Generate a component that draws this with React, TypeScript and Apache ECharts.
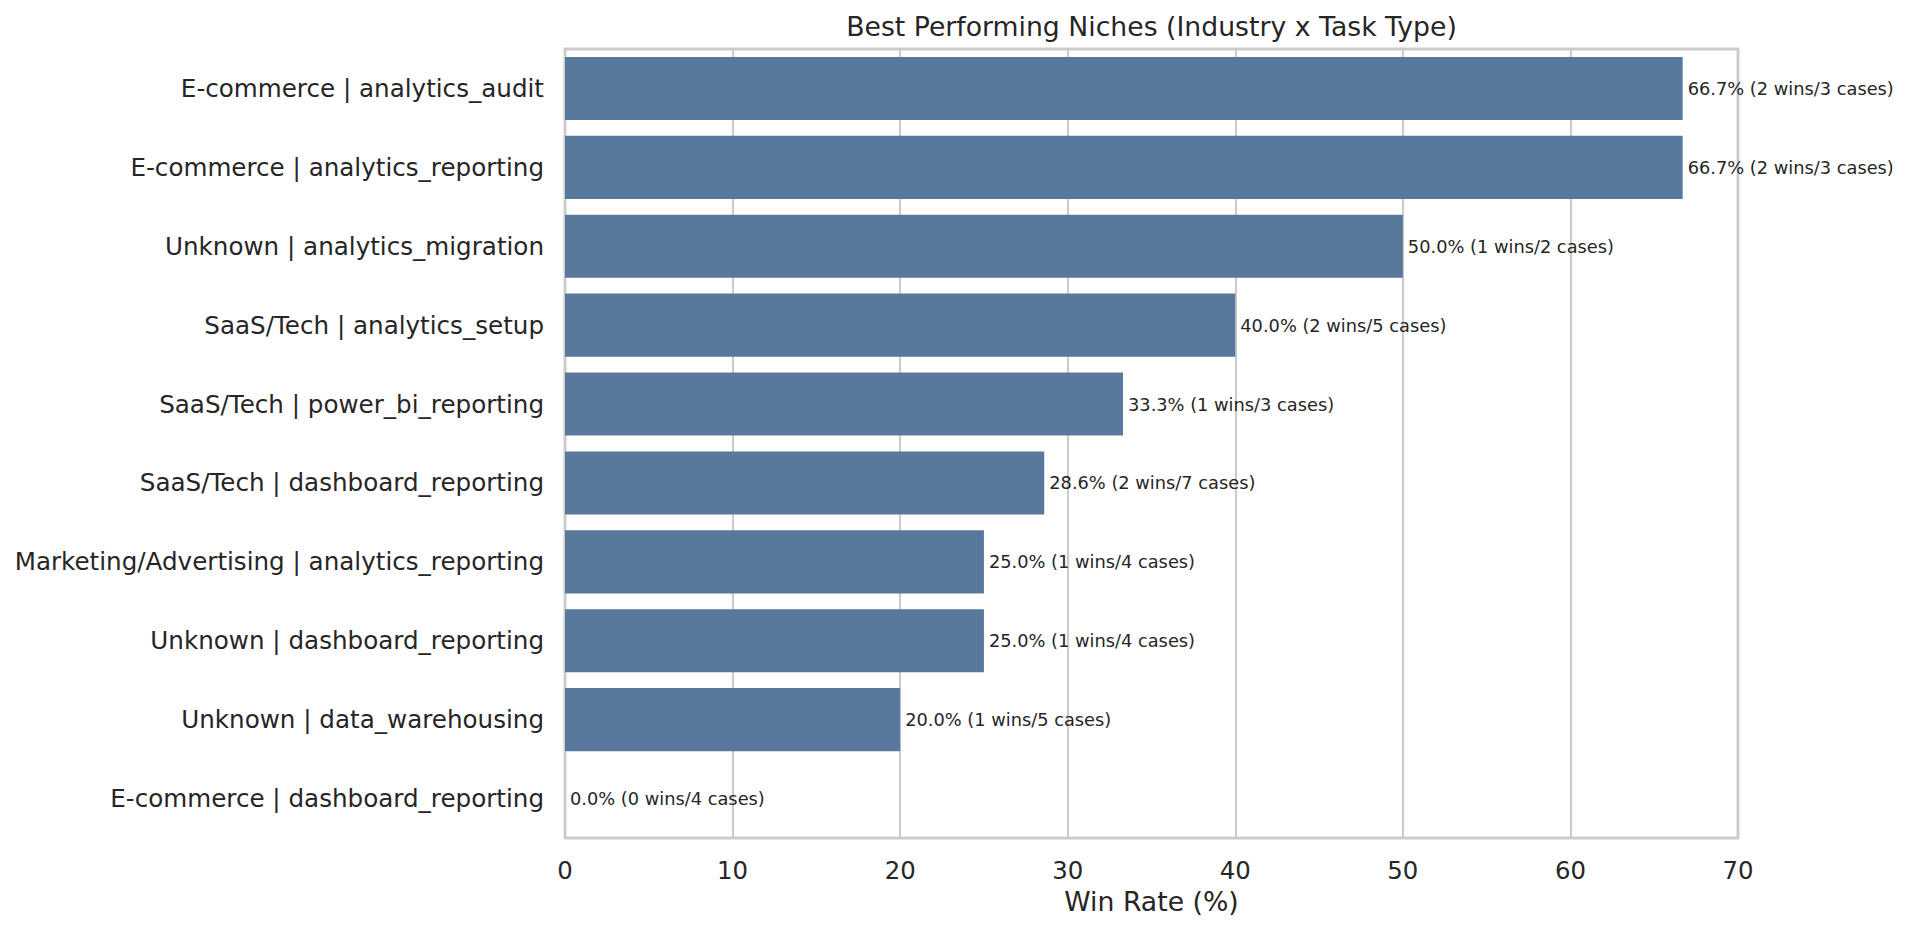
import React, { useEffect, useRef } from 'react';
import * as echarts from 'echarts';

// Niches, top to bottom as they appear in the chart
const niches = [
  'E-commerce | analytics_audit',
  'E-commerce | analytics_reporting',
  'Unknown | analytics_migration',
  'SaaS/Tech | analytics_setup',
  'SaaS/Tech | power_bi_reporting',
  'SaaS/Tech | dashboard_reporting',
  'Marketing/Advertising | analytics_reporting',
  'Unknown | dashboard_reporting',
  'Unknown | data_warehousing',
  'E-commerce | dashboard_reporting',
];

const winRate = [66.7, 66.7, 50.0, 40.0, 33.3, 28.6, 25.0, 25.0, 20.0, 0.0];
const wins = [2, 2, 1, 2, 1, 2, 1, 1, 1, 0];
const cases = [3, 3, 2, 5, 3, 7, 4, 4, 5, 4];

const xTicks = [0, 10, 20, 30, 40, 50, 60, 70];

const FONT = '"DejaVu Sans", Verdana, sans-serif';
const TEXT = '#262626';

const App: React.FC = () => {
  const chartRef = useRef<HTMLDivElement>(null);

  useEffect(() => {
    if (!chartRef.current) return;
    const chart = echarts.init(chartRef.current, undefined, { renderer: 'svg' });

    const option: any = {
      animation: false,
      backgroundColor: '#ffffff',
      title: {
        text: 'Best Performing Niches (Industry x Task Type)',
        left: 1151.5,
        top: 13,
        padding: 0,
        textAlign: 'center',
        textStyle: { fontFamily: FONT, fontSize: 26.7, fontWeight: 'normal', color: TEXT },
      },
      grid: {
        left: 565,
        top: 49,
        width: 1173,
        height: 789,
        show: true,
        borderColor: '#cccccc',
        borderWidth: 2.8,
        backgroundColor: 'transparent',
      },
      xAxis: {
        type: 'value',
        min: xTicks[0],
        max: xTicks[xTicks.length - 1],
        interval: 10,
        name: 'Win Rate (%)',
        nameLocation: 'middle',
        nameGap: 50,
        nameTextStyle: { fontFamily: FONT, fontSize: 26.7, color: TEXT },
        axisLine: { show: false },
        axisTick: { show: false },
        axisLabel: { margin: 20, fontFamily: FONT, fontSize: 24.4, color: TEXT },
        splitLine: { show: true, lineStyle: { color: '#cccccc', width: 2.2 } },
      },
      yAxis: {
        type: 'category',
        data: niches,
        inverse: true,
        axisLine: { show: false },
        axisTick: { show: false },
        splitLine: { show: false },
        axisLabel: { margin: 21, fontFamily: FONT, fontSize: 24.6, color: TEXT },
      },
      series: [
        {
          type: 'bar',
          data: winRate,
          barCategoryGap: '20%',
          itemStyle: { color: '#58799b' },
          label: {
            show: true,
            position: 'right',
            distance: 5,
            fontFamily: FONT,
            fontSize: 17.8,
            color: TEXT,
            formatter: (p: any) =>
              `${winRate[p.dataIndex].toFixed(1)}% (${wins[p.dataIndex]} wins/${cases[p.dataIndex]} cases)`,
          },
        },
      ],
    };

    chart.setOption(option);
    return () => {
      chart.dispose();
    };
  }, []);

  return (
    <div
      ref={chartRef}
      style={{ position: 'fixed', left: 0, top: 0, width: 1909, height: 934, background: '#fff' }}
    />
  );
};

export default App;
